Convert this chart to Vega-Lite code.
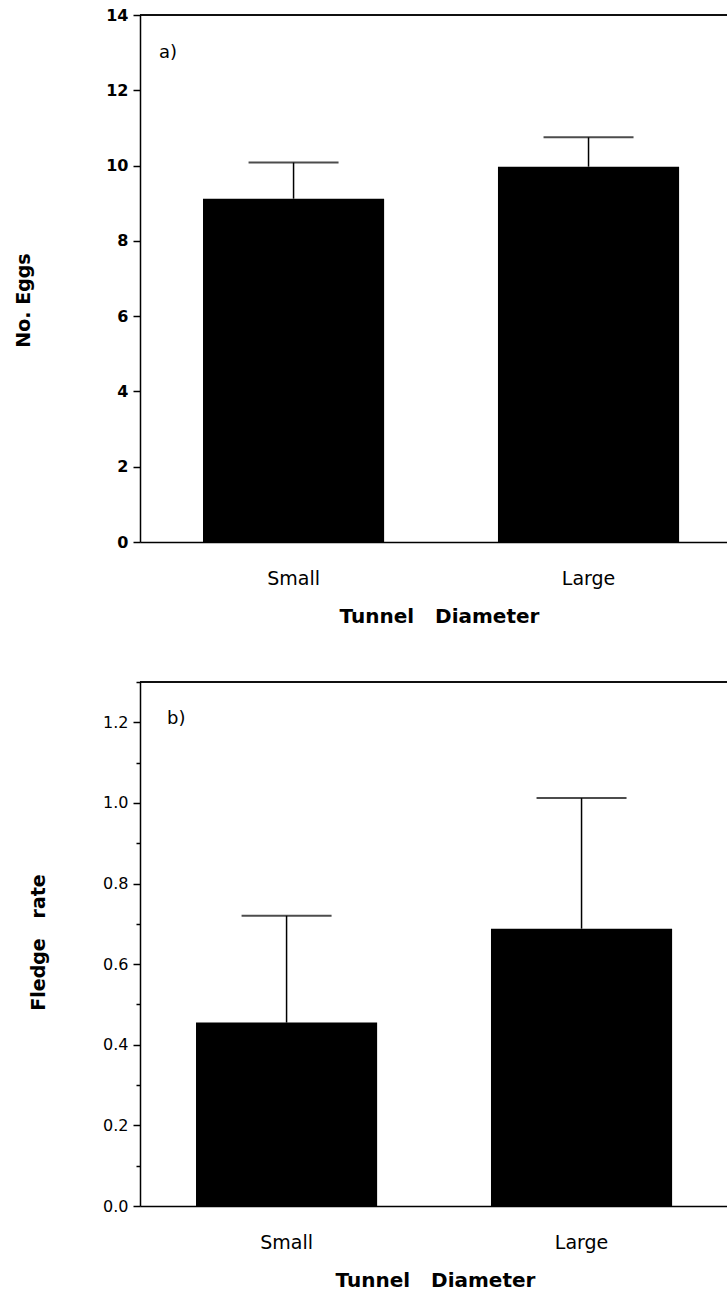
{
  "$schema": "https://vega.github.io/schema/vega-lite/v6.json",
  "padding": {"left": 14, "top": 7, "right": 0, "bottom": 4},
  "bounds": "flush",
  "spacing": 140,
  "config": {
    "view": {"stroke": null},
    "font": "DejaVu Sans",
    "axis": {"domainColor": "black", "domainWidth": 1.5, "tickColor": "black", "tickWidth": 1.5, "labelColor": "black", "titleColor": "black", "grid": false, "labelFont": "DejaVu Sans", "titleFont": "DejaVu Sans"}
  },
  "vconcat": [
    {
      "width": 587,
      "height": 527,
      "title": {"text": "a)", "anchor": "start", "frame": "group", "offset": -64, "dx": 19, "baseline": "middle", "fontSize": 18, "fontWeight": "normal", "color": "black", "font": "DejaVu Sans"},
      "data": {"values": [
        {"d": "Small", "eggs": 9.12, "upper": 10.08},
        {"d": "Large", "eggs": 9.97, "upper": 10.75}
      ]},
      "layer": [
        {
          "mark": {"type": "bar", "color": "black"},
          "encoding": {
            "x": {"field": "d", "type": "nominal", "sort": ["Small", "Large"], "title": "Tunnel\u00a0\u00a0\u00a0Diameter",
              "scale": {"paddingInner": 0.386, "paddingOuter": 0.188, "align": 0.568},
              "axis": {"labelAngle": 0, "ticks": false, "labelPadding": 27, "labelFontSize": 19, "titleFontSize": 20, "titleFontWeight": "bold", "titlePadding": 18, "titleX": 299}},
            "y": {"field": "eggs", "type": "quantitative", "title": "No. Eggs",
              "scale": {"domain": [0, 14], "nice": false},
              "axis": {"values": [0,1,2,3,4,5,6,7,8,9,10,11,12,13,14],
                "labelExpr": "datum.value % 2 === 0 ? datum.label : ''",
                "tickSize": {"condition": {"test": "datum.value % 2 === 0", "value": 7}, "value": 4},
                "labelPadding": 5, "labelFontSize": 16, "labelFontWeight": "bold",
                "titleFontSize": 19, "titleFontWeight": "bold", "titleX": -107, "titleY": 285}}
          }
        },
        {
          "mark": {"type": "rule", "color": "black", "strokeWidth": 1.5},
          "encoding": {
            "x": {"field": "d", "type": "nominal", "sort": ["Small", "Large"], "title": "Tunnel\u00a0\u00a0\u00a0Diameter"},
            "y": {"field": "eggs", "type": "quantitative", "title": "No. Eggs"},
            "y2": {"field": "upper"}
          }
        },
        {
          "mark": {"type": "tick", "color": "black", "size": 90, "thickness": 2},
          "encoding": {
            "x": {"field": "d", "type": "nominal", "sort": ["Small", "Large"], "title": "Tunnel\u00a0\u00a0\u00a0Diameter"},
            "y": {"field": "upper", "type": "quantitative", "title": "No. Eggs"}
          }
        },
        {
          "mark": {"type": "rule", "color": "black", "strokeWidth": 1.5},
          "encoding": {"y": {"datum": 14, "type": "quantitative", "title": "No. Eggs"}}
        }
      ]
    },
    {
      "width": 587,
      "height": 524,
      "title": {"text": "b)", "anchor": "start", "frame": "group", "offset": -56, "dx": 27, "baseline": "middle", "fontSize": 18, "fontWeight": "normal", "color": "black", "font": "DejaVu Sans"},
      "data": {"values": [
        {"d": "Small", "rate": 0.455, "upper": 0.72},
        {"d": "Large", "rate": 0.688, "upper": 1.012}
      ]},
      "layer": [
        {
          "mark": {"type": "bar", "color": "black"},
          "encoding": {
            "x": {"field": "d", "type": "nominal", "sort": ["Small", "Large"], "title": "Tunnel\u00a0\u00a0\u00a0Diameter",
              "scale": {"paddingInner": 0.386, "paddingOuter": 0.188, "align": 0.505},
              "axis": {"labelAngle": 0, "ticks": false, "labelPadding": 27, "labelFontSize": 19, "titleFontSize": 20, "titleFontWeight": "bold", "titlePadding": 18, "titleX": 295}},
            "y": {"field": "rate", "type": "quantitative", "title": "Fledge\u00a0\u00a0\u00a0rate",
              "scale": {"domain": [0, 1.3], "nice": false},
              "axis": {"values": [0,0.1,0.2,0.3,0.4,0.5,0.6,0.7,0.8,0.9,1.0,1.1,1.2,1.3],
                "labelExpr": "round(datum.value*10) % 2 === 0 ? format(datum.value, '.1f') : ''",
                "tickSize": {"condition": {"test": "round(datum.value*10) % 2 === 0", "value": 7}, "value": 4},
                "labelPadding": 5, "labelFontSize": 16, "labelFontWeight": "normal",
                "titleFontSize": 19, "titleFontWeight": "bold", "titleX": -92, "titleY": 260}}
          }
        },
        {
          "mark": {"type": "rule", "color": "black", "strokeWidth": 1.5},
          "encoding": {
            "x": {"field": "d", "type": "nominal", "sort": ["Small", "Large"], "title": "Tunnel\u00a0\u00a0\u00a0Diameter"},
            "y": {"field": "rate", "type": "quantitative", "title": "Fledge\u00a0\u00a0\u00a0rate"},
            "y2": {"field": "upper"}
          }
        },
        {
          "mark": {"type": "tick", "color": "black", "size": 90, "thickness": 2},
          "encoding": {
            "x": {"field": "d", "type": "nominal", "sort": ["Small", "Large"], "title": "Tunnel\u00a0\u00a0\u00a0Diameter"},
            "y": {"field": "upper", "type": "quantitative", "title": "Fledge\u00a0\u00a0\u00a0rate"}
          }
        },
        {
          "mark": {"type": "rule", "color": "black", "strokeWidth": 1.5},
          "encoding": {"y": {"datum": 1.3, "type": "quantitative", "title": "Fledge\u00a0\u00a0\u00a0rate"}}
        }
      ]
    }
  ]
}
